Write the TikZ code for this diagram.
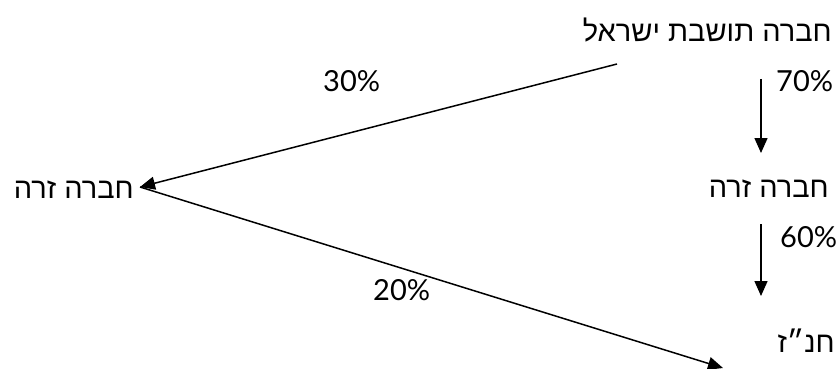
\documentclass[tikz,border=0pt]{standalone}
\usepackage{fontspec}
\setmainfont{Lato}
\newfontfamily\hebfont[Script=Hebrew]{Liberation Sans}
\TeXXeTstate=1
\usetikzlibrary{arrows.meta}
\begin{document}
\begin{tikzpicture}[x=1pt,y=-1pt,
  heb/.style={font=\hebfont\fontsize{29}{33}\selectfont, inner sep=0pt},
  pct/.style={font=\fontsize{29}{33}\selectfont, inner sep=0pt},
  arr/.style={line width=1.5pt, -{Triangle[length=15pt,width=13pt]}}]
\useasboundingbox (0,0) rectangle (838,369);
\fill[white] (0,0) rectangle (838,369);
% nodes
\node[heb, anchor=base east] (isr) at (832,42) {\beginR חברה תושבת ישראל\endR};
\node[heb, anchor=base east] (lz) at (134,198) {\beginR חברה זרה\endR};
\node[heb, anchor=base east] (rz) at (829,197) {\beginR חברה זרה\endR};
\node[heb, anchor=base east] (hz) at (835,352) {\beginR חנ״ז\endR};
\node[pct, anchor=base west] (p70) at (776,92) {70\%};
\node[pct, anchor=base west] (p60) at (780,247) {60\%};
\node[pct, anchor=base west] (p30) at (323,92) {30\%};
\node[pct, anchor=base west] (p20) at (373,300) {20\%};
% connector points
\coordinate (s1) at (617,64);
\coordinate (lt) at (140,187);
\coordinate (e2) at (723,368);
\coordinate (v1s) at (761,79);
\coordinate (v1e) at (761,153);
\coordinate (v2s) at (761,224);
\coordinate (v2e) at (761,296);
% connectors
\draw[arr] (s1) -- (lt);
\draw[arr] (lt) -- (e2);
\draw[arr] (v1s) -- (v1e);
\draw[arr] (v2s) -- (v2e);
\end{tikzpicture}
\end{document}
